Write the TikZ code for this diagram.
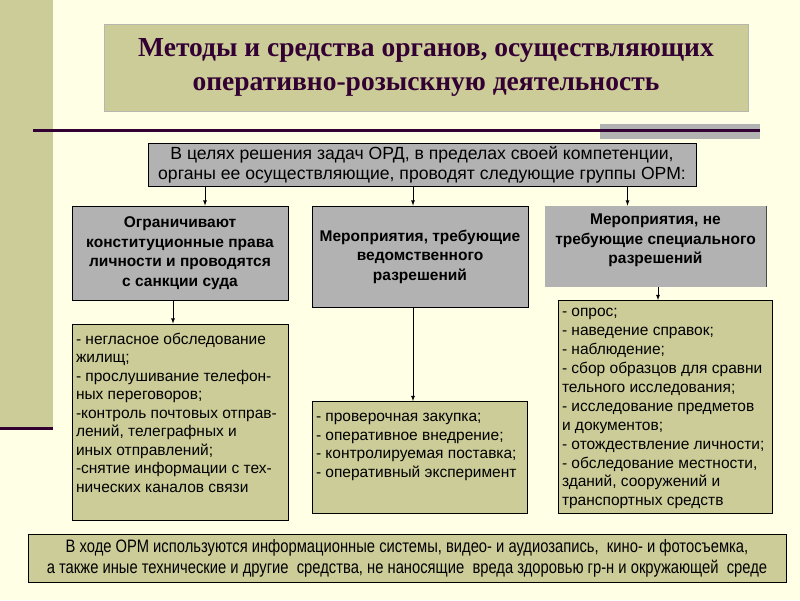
\documentclass[tikz,border=0pt]{standalone}
\usepackage{fontspec}
\setmainfont{Liberation Serif}
\newfontfamily\arialfont{Liberation Sans}
\newfontfamily\narrowfont[FakeStretch=0.82]{Liberation Sans}

\definecolor{creme}{HTML}{FFFFE5}
\definecolor{oliv}{HTML}{CCCC99}
\definecolor{grau}{HTML}{B2B2B2}
\definecolor{bordeaux}{HTML}{330033}

\begin{document}
\begin{tikzpicture}[x=1pt, y=-1pt, >=latex, font=\arialfont,
    kopf/.style={draw=black, fill=grau, line width=0.8pt, inner sep=0pt, align=center,
      font=\arialfont\bfseries\fontsize{15.5}{19.5}\selectfont},
    liste/.style={draw=black, fill=oliv, line width=0.8pt, inner sep=4pt,
      font=\arialfont\fontsize{15.5}{18.5}\selectfont}]

              % Hintergrund
              \useasboundingbox (0,0) rectangle (800,600);
              \fill[creme] (0,0) rectangle (800,600);
              \fill[oliv] (0,0) rectangle (53,427);
              \draw[bordeaux, line width=3pt] (0,428) -- (53,428);

              % Titel
              \node[draw=grau!80!oliv, fill=oliv, minimum width=644, minimum height=87,
                text=bordeaux, align=center, inner sep=0pt,
                font=\bfseries\fontsize{27.5}{34}\selectfont] (titel) at (426,67.5)
                {Методы и средства органов, осуществляющих\\оперативно-розыскную деятельность};

              % Trennlinie
              \fill[grau] (600,124) rectangle (760,139);
              \draw[bordeaux, line width=2.2pt] (33,130.5) -- (760,130.5);

              % Oberer Kasten
              \node[draw=black, fill=grau, line width=0.8pt, minimum width=548, minimum height=43,
                inner sep=0pt, align=center, font=\arialfont\fontsize{17.6}{20}\selectfont]
                (aufgabe) at (422,164.5)
                {В целях решения задач ОРД, в пределах своей компетенции,\\
                 органы ее осуществляющие, проводят следующие группы ОРМ:};

              % Gruppen
              \node[kopf, minimum width=216, minimum height=94] (b1) at (180,253)
                {Ограничивают\\конституционные права\\личности и проводятся\\с санкции суда};
              \node[kopf, minimum width=216, minimum height=101] (b2) at (420,256.5)
                {Мероприятия, требующие\\ведомственного\\разрешений};
              \node[kopf, draw=none, minimum width=221, minimum height=81] (b3) at (655.5,246.5)
                {Мероприятия, не\\требующие специального\\разрешений\\[-4pt]};
              \draw[black!70, line width=0.8pt] (b3.north east) -- (b3.south east);

              % Listen
              \node[liste] (l1) at (180,422)
                {\parbox[c][188pt][t]{208pt}{\raggedright\vspace*{5pt}%
                 - негласное обследование\\
                 жилищ;\\
                 - прослушивание  телефон-\\
                 ных переговоров;\\
                 -контроль почтовых отправ-\\
                 лений, телеграфных и\\
                 иных отправлений;\\
                 -снятие информации с тех-\\
                 нических каналов связи}};
              \node[liste] (l2) at (419.5,457.5)
                {\parbox[c][104pt][t]{207pt}{\raggedright\vspace*{8pt}%
                 - проверочная закупка;\\
                 - оперативное внедрение;\\
                 - контролируемая поставка;\\
                 - оперативный эксперимент}};
              \node[liste, font=\arialfont\fontsize{15.5}{18.9}\selectfont] (l3) at (665,407)
                {\parbox[c][205pt][t]{206pt}{\raggedright\vspace*{4pt}%
                 - опрос;\\
                 - наведение справок;\\
                 - наблюдение;\\
                 - сбор образцов для сравни\\
                 тельного исследования;\\
                 - исследование предметов\\
                 и документов;\\
                 - отождествление личности;\\
                 - обследование местности,\\
                 зданий, сооружений и\\
                 транспортных средств}};

              % Unterer Kasten
              \node[draw=black, fill=oliv, line width=0.8pt, minimum width=758, minimum height=48,
                inner sep=0pt, align=center, font=\narrowfont\fontsize{18}{21}\selectfont]
                (mittel) at (407,558)
                {В ходе ОРМ используются информационные системы, видео- и аудиозапись, \ кино- и фотосъемка,\\
                 а также иные технические и другие \ средства, не наносящие \ вреда здоровью гр-н и окружающей \ среде};

              % Pfeile
              \foreach \b/\dx in {b1/25, b2/-7, b3/-28} {
                      \draw[->, line width=0.8pt] ([xshift=\dx pt]\b.north |- aufgabe.south) -- ([xshift=\dx pt]\b.north);
                  }
              \foreach \b/\l/\dx in {b1/l1/-7, b2/l2/-7, b3/l3/2.5} {
                      \draw[->, line width=0.8pt] ([xshift=\dx pt]\b.south) -- ([xshift=\dx pt]\b.south |- \l.north);
                  }

          \end{tikzpicture}
\end{document}
